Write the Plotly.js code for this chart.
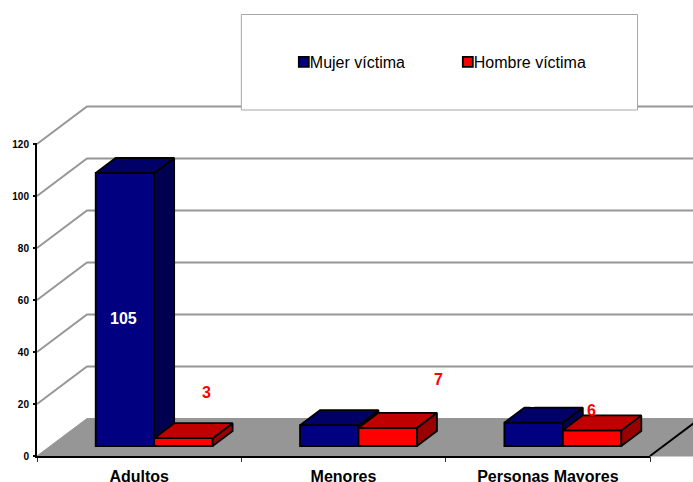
<!DOCTYPE html>
<html><head><meta charset="utf-8">
<script src="https://cdn.plot.ly/plotly-3.0.0.min.js"></script>
<style>html,body{margin:0;padding:0;background:#fff}#c{width:693px;height:482px}</style>
</head><body><div id="c"></div>
<script>
const categories = ['Adultos','Menores','Personas Mayores'];
const mujerVictima = [105, 8, 9];
const hombreVictima = [3, 7, 6];
const seriesNames = ['Mujer víctima','Hombre víctima'];
const gridValues = [20,40,60,80,100,120];
const yTickValues = [0,20,40,60,80,100,120];

// scale: pixels per data unit; the plot area is a little larger than the axes so that axis lines are not clipped
const W=693,H=482,L=36.5,B0=456,PX=204.5,PY=2.6,PAD=6;
const PL=L-PAD, PB=B0+PAD;
const xMin=-0.5-PAD/PX, xR=-0.5+(W-L)/PX, yMin=-PAD/PY, yT=B0/PY;
const X=p=>(p-L)/PX-0.5, Y=p=>(B0-p)/PY;
const wallDx=50/PX, wallDy=37.5/PY;   // wall depth
const barDx=20/PX, barDy=15/PY;       // bar depth
const base=10/PY, shift=15/PX, bw=58.5/PX;
const xl=-0.5, xr=2.5;
const GREY='#969696', lw=1.8;

function faces(vals, x0Of){
  const top={x:[],y:[]}, side={x:[],y:[]};
  vals.forEach((v,i)=>{
    const a=x0Of(i), b=a+bw, t=base+v;
    top.x.push(a,a+barDx,b+barDx,b,a,null); top.y.push(t,t+barDy,t+barDy,t,t,null);
    side.x.push(b,b+barDx,b+barDx,b,b,null); side.y.push(base,base+barDy,t+barDy,t,base,null);
  });
  return {top,side};
}
function poly(d,fill,xa,ya){return {type:'scatter',mode:'lines',x:d.x,y:d.y,fill:'toself',fillcolor:fill,
  line:{color:'#000',width:lw},showlegend:false,hoverinfo:'skip',xaxis:xa,yaxis:ya};}
function front(vals,name,color,off,xa,ya){return {type:'bar',name:name,x:categories.map((c,i)=>i),y:vals,base:base,
  width:bw,offset:off,marker:{color:color,line:{color:'#000',width:lw}},xaxis:xa,yaxis:ya,hoverinfo:'x+y'};}
function blackLine(x0,y0,x1,y1){return {type:'line',layer:'above',xref:'x',yref:'y',x0:x0,y0:y0,x1:x1,y1:y1,line:{color:'#000',width:2}};}

const floor={type:'scatter',mode:'lines',x:[xl,xl+wallDx,xR+wallDx,xR,xl],y:[0,wallDy,wallDy,0,0],fill:'toself',
  fillcolor:GREY,line:{color:GREY,width:1},showlegend:false,hoverinfo:'skip'};
const grid={x:[],y:[]};
gridValues.forEach(v=>{grid.x.push(xl,xl+wallDx,xR,null);grid.y.push(v,v+wallDy,v+wallDy,null);});
const gridTrace={type:'scatter',mode:'lines',x:grid.x,y:grid.y,line:{color:GREY,width:2},showlegend:false,hoverinfo:'skip'};
const axisHolder={type:'scatter',mode:'lines',x:[xl,xr],y:[0,120],line:{color:'rgba(0,0,0,0)',width:0},showlegend:false,hoverinfo:'skip',xaxis:'x4',yaxis:'y4'};

const fB=faces(mujerVictima,i=>i+shift-bw), fR=faces(hombreVictima,i=>i+shift);
const data=[floor,gridTrace,
  front(mujerVictima,seriesNames[0],'#000080',shift-bw,'x2','y2'),
  poly(fB.side,'#000050','x2','y2'),poly(fB.top,'#000066','x2','y2'),
  front(hombreVictima,seriesNames[1],'#ff0000',shift,'x3','y3'),
  poly(fR.side,'#990000','x3','y3'),poly(fR.top,'#c00000','x3','y3'),
  axisHolder];

const F='"Liberation Sans", Arial, sans-serif';
function label(text,px,py,color){return {text:String(text),x:X(px),y:Y(py),xref:'x',yref:'y',showarrow:false,
  xanchor:'center',yanchor:'middle',font:{family:F,size:16,color:color,weight:700}};}
const annotations=[
  label(mujerVictima[0],123,318.5,'#fff'),
  label(mujerVictima[1],329,398,'#fff'),
  label(mujerVictima[2],532,401,'#fff'),
  label(hombreVictima[0],206,392,'#ff0000'),
  label(hombreVictima[1],438,379,'#ff0000'),
  label(hombreVictima[2],591,410,'#ff0000')
];
const pw=W-PL;
const layout={width:W,height:H,margin:{l:PL,r:0,t:0,b:H-PB,pad:0,autoexpand:false},paper_bgcolor:'#fff',plot_bgcolor:'rgba(0,0,0,0)',
  font:{family:F,color:'#000'},barmode:'overlay',
  xaxis:{range:[xMin,xR],anchor:'free',position:PAD/PB,showgrid:false,zeroline:false,showline:false,tickmode:'array',tickvals:categories.map((c,i)=>i),ticktext:categories,
    ticks:'outside',ticklen:6,tickcolor:'rgba(0,0,0,0)',tickfont:{family:F,size:16,weight:700,color:'#000'},
    minor:{tickmode:'array',tickvals:[-0.5,0.5,1.5,2.5],ticks:'outside',ticklen:5,tickwidth:1,tickcolor:'#333',showgrid:false}},
  yaxis:{range:[yMin,yT],anchor:'free',position:PAD/pw,showgrid:false,zeroline:false,showline:false,tickmode:'array',tickvals:yTickValues,ticktext:yTickValues.map(String),
    ticks:'outside',ticklen:4,tickwidth:1.5,tickcolor:'#000',ticklabelstandoff:2,tickfont:{family:F,size:10,weight:700,color:'#000'}},
  xaxis2:{overlaying:'x',anchor:'y2',range:[xMin,xR],visible:false},
  yaxis2:{overlaying:'y',anchor:'x2',range:[yMin,yT],visible:false},
  xaxis3:{overlaying:'x',anchor:'y3',range:[xMin,xR],visible:false},
  yaxis3:{overlaying:'y',anchor:'x3',range:[yMin,yT],visible:false},
  // axis lines of exact length: these axes occupy only the front edge of the 3D box
  xaxis4:{domain:[PAD/pw,(PAD+3*PX)/pw],anchor:'y4',range:[xl,xr],showline:true,linecolor:'#000',linewidth:2,showticklabels:false,ticks:'',showgrid:false,zeroline:false},
  yaxis4:{domain:[PAD/PB,(PAD+120*PY)/PB],anchor:'x4',range:[0,120],showline:true,linecolor:'#000',linewidth:2,showticklabels:false,ticks:'',showgrid:false,zeroline:false},
  shapes:[
    blackLine(xr,0,xr+wallDx,wallDy),
    {type:'rect',layer:'above',xref:'x',yref:'y',x0:X(241),x1:X(637.5),y0:Y(110),y1:Y(14.5),fillcolor:'#fff',line:{color:'#a6a6a6',width:1}}],
  annotations:annotations,
  showlegend:true,
  legend:{orientation:'h',x:(283.5-PL)/pw,y:(PB-45)/PB,xanchor:'left',yanchor:'top',bgcolor:'rgba(0,0,0,0)',borderwidth:0,
    entrywidth:119,entrywidthmode:'pixels',traceorder:'normal',font:{family:F,size:16,color:'#000'}}
};
Plotly.newPlot('c',data,layout,{displayModeBar:false}).then(()=>{
  document.querySelectorAll('.legend .legendtext').forEach(t=>t.setAttribute('x',26));
  document.querySelectorAll('.legend .legendpoints path').forEach(p=>p.setAttribute('d','M5,5H-5V-5H5Z'));
});
</script></body></html>
